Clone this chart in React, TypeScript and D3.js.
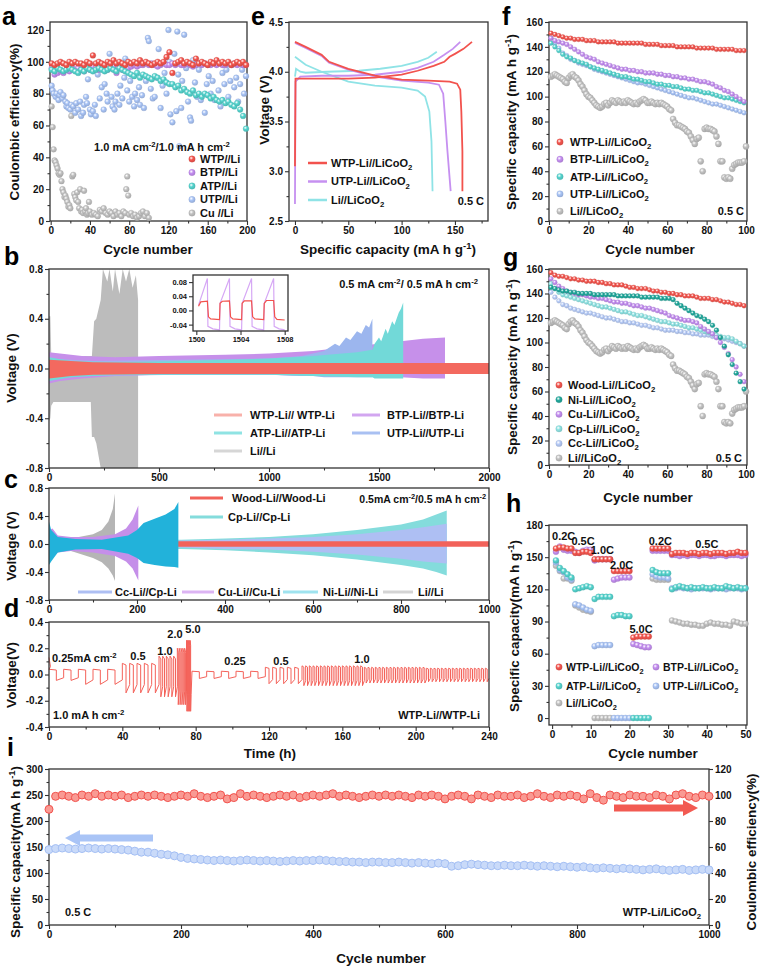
import React, { useEffect, useRef } from "react";
import * as d3 from "d3";

const FONT = "'Liberation Sans', Arial, Helvetica, sans-serif";

const C = {
  red: "#f4554e",
  purple: "#c48ef0",
  cyan: "#55d4ce",
  blue: "#a9c4f6",
  gray: "#c2c2c2",
  teal: "#22a99c",
  cp: "#8fe3e3",
  cc: "#b6cbf7",
};

// ---------- panel a : coulombic efficiency (every 3rd cycle from 1) ----------
const aStep = 3;
const aWtp = [99, 98, 99, 100, 99, 98, 100, 99, 100, 99, 99, 98, 100, 99, 104, 99, 100, 99, 98, 100, 99, 101, 99, 100, 99, 98, 100, 99, 100, 99, 101, 99, 100, 99, 98, 99, 100, 99, 100, 103, 106, 93, 99, 100, 101, 99, 100, 99, 98, 102, 99, 100, 99, 98, 100, 99, 101, 99, 100, 99, 100, 98, 99, 100, 99, 100, 98];
const aBtp = [96, 92, 93, 94, 93, 95, 94, 96, 95, 96, 95, 94, 96, 95, 97, 96, 95, 97, 96, 95, 96, 97, 93, 96, 95, 97, 96, 97, 98, 97, 98, 98, 99, 98, 99, 98, 97, 98, 99, 98, 98, 99, 98, 99, 98, 98, 99, 98, 97, 98, 99, 98, 99, 98, 98, 99, 98, 99, 98, 98, 99, 98, 99, 98, 99, 98, 98];
const aAtp = [95, 94, 96, 95, 94, 95, 96, 95, 94, 93, 95, 94, 96, 95, 94, 95, 96, 95, 94, 95, 96, 95, 94, 96, 95, 94, 93, 92, 91, 93, 90, 92, 91, 90, 89, 91, 90, 88, 89, 87, 86, 86, 84, 85, 82, 83, 81, 80, 82, 79, 80, 78, 80, 79, 77, 78, 76, 75, 76, 74, 75, 73, 72, 74, 70, 66, 58];
const aUtp = [[1, 85], [2, 82], [3, 80], [5, 78], [6, 80], [8, 76], [9, 79], [10, 81], [12, 77], [13, 79], [15, 75], [16, 72], [17, 74], [18, 71], [20, 70], [21, 73], [23, 72], [25, 68], [26, 74], [28, 70], [30, 75], [31, 66], [33, 68], [34, 73], [36, 78], [37, 74], [38, 89], [40, 70], [41, 67], [43, 69], [45, 73], [46, 66], [48, 92], [50, 77], [52, 84], [54, 70], [55, 86], [57, 80], [58, 75], [60, 105], [62, 78], [63, 72], [65, 70], [66, 75], [68, 80], [70, 73], [71, 85], [73, 77], [75, 90], [76, 102], [78, 82], [80, 75], [81, 88], [83, 78], [85, 72], [86, 80], [88, 76], [90, 84], [91, 73], [93, 79], [95, 71], [97, 88], [99, 115], [100, 113], [102, 83], [104, 77], [106, 78], [108, 90], [110, 108], [112, 71], [114, 85], [116, 93], [118, 80], [120, 120], [121, 100], [122, 67], [124, 62], [126, 105], [128, 69], [129, 119], [130, 92], [131, 47], [133, 71], [134, 88], [136, 117], [138, 96], [140, 75], [142, 65], [143, 63], [145, 101], [147, 87], [149, 78], [151, 95], [153, 76], [155, 99], [157, 68], [159, 86], [161, 91], [163, 80], [165, 88], [167, 76], [169, 100], [171, 82], [173, 72], [175, 93], [177, 86], [179, 95], [181, 78], [183, 88], [185, 98], [187, 84], [189, 90], [191, 75], [193, 86], [195, 95], [197, 80], [199, 91]];
const aCu = [[1, 72], [2, 59], [3, 45], [4, 38], [5, 37], [6, 35], [7, 33], [8, 30], [9, 29], [10, 30], [11, 25], [12, 20], [13, 18], [14, 15], [15, 16], [16, 14], [17, 12], [18, 9], [19, 10], [20, 8], [21, 66], [22, 28], [23, 29], [24, 17], [25, 15], [26, 13], [27, 18], [28, 12], [29, 8], [30, 20], [31, 6], [32, 7], [33, 5], [34, 19], [35, 6], [36, 8], [37, 4], [38, 5], [39, 12], [40, 6], [42, 4], [44, 5], [46, 4], [48, 3], [50, 7], [52, 6], [54, 8], [56, 5], [58, 4], [60, 6], [62, 5], [64, 3], [66, 6], [68, 4], [70, 5], [72, 3], [74, 6], [76, 5], [77, 20], [78, 28], [79, 16], [80, 4], [82, 5], [84, 3], [86, 4], [88, 2], [90, 3], [92, 5], [94, 6], [96, 3], [98, 5], [100, 2]];

// ---------- panel e : charge / discharge profiles [capacity, voltage] ----------
const eWtpCh = [[0, 3.05], [0.5, 3.93], [25, 3.93], [50, 3.93], [75, 3.94], [100, 3.97], [115, 4.01], [130, 4.06], [140, 4.1], [145, 4.15], [150, 4.18], [158, 4.23], [166, 4.3]];
const eWtpDis = [[0, 4.3], [10, 4.25], [25, 4.17], [32, 4.1], [50, 4.03], [75, 3.96], [100, 3.92], [125, 3.91], [145, 3.9], [152, 3.88], [155, 3.82], [156, 3.6], [157, 3.2], [157, 2.8]];
const eUtpCh = [[0, 2.67], [0.5, 3.9], [5, 3.95], [25, 3.96], [50, 3.96], [75, 3.97], [100, 4.0], [115, 4.04], [130, 4.1], [140, 4.17], [148, 4.23], [155, 4.3]];
const eUtpDis = [[0, 4.29], [10, 4.24], [25, 4.16], [32, 4.09], [50, 4.02], [75, 3.95], [100, 3.91], [125, 3.89], [135, 3.87], [139, 3.78], [141, 3.5], [143, 3.2], [146, 2.8]];
const eLiCh = [[0, 3.95], [1, 4.03], [5, 4.0], [10, 3.99], [30, 4.0], [60, 4.01], [80, 4.03], [100, 4.06], [115, 4.1], [125, 4.14], [133, 4.2]];
const eLiDis = [[0, 4.15], [10, 4.07], [25, 4.0], [50, 3.9], [75, 3.86], [100, 3.84], [115, 3.81], [122, 3.75], [126, 3.6], [128, 3.3], [129, 2.8]];

// ---------- panel f : cycling at 0.5 C (every 2nd cycle from 1) ----------
const fStep = 2;
const fWtp = [151, 150, 149, 148, 147, 147, 146, 146, 146, 145, 145, 145, 144, 144, 144, 144, 144, 143, 143, 143, 143, 143, 143, 143, 142, 142, 142, 142, 141, 141, 141, 141, 140, 140, 140, 140, 140, 139, 139, 139, 139, 139, 138, 138, 138, 138, 138, 137, 137, 137];
const fBtp = [147, 145, 144, 143, 142, 140, 138, 136, 134, 132, 131, 130, 128, 127, 126, 125, 124, 123, 122, 122, 121, 121, 120, 120, 119, 119, 119, 118, 118, 117, 117, 116, 116, 115, 115, 114, 114, 113, 112, 112, 111, 110, 108, 107, 105, 104, 102, 100, 98, 96];
const fAtp = [143, 140, 137, 134, 132, 131, 129, 128, 127, 126, 124, 123, 122, 121, 120, 119, 118, 117, 116, 116, 115, 114, 114, 113, 112, 112, 111, 110, 110, 109, 109, 108, 108, 107, 106, 106, 105, 105, 104, 103, 103, 102, 101, 100, 99, 99, 98, 97, 96, 95];
const fUtp = [147, 143, 139, 135, 133, 130, 129, 127, 126, 125, 124, 122, 121, 120, 119, 118, 117, 116, 115, 114, 113, 112, 111, 111, 110, 109, 108, 107, 106, 105, 104, 103, 102, 101, 100, 99, 99, 98, 97, 96, 95, 94, 94, 93, 92, 91, 90, 89, 88, 87];
const liCo = [[1, 116], [2, 117], [3, 118], [4, 117], [5, 116], [6, 115], [7, 114], [8, 112], [9, 111], [10, 115], [11, 117], [12, 118], [13, 116], [14, 115], [15, 113], [16, 110], [17, 108], [18, 105], [19, 102], [20, 100], [21, 99], [22, 97], [23, 95], [24, 93], [25, 92], [26, 91], [27, 92], [28, 94], [29, 95], [30, 93], [31, 95], [32, 97], [33, 96], [34, 95], [35, 97], [36, 96], [37, 95], [38, 96], [39, 95], [40, 97], [41, 96], [42, 95], [43, 94], [44, 95], [45, 94], [46, 96], [47, 97], [48, 98], [49, 97], [50, 95], [51, 95], [52, 96], [53, 95], [54, 94], [55, 95], [56, 94], [57, 95], [58, 94], [59, 93], [60, 92], [61, 90], [62, 89], [63, 82], [64, 79], [65, 77], [66, 77], [67, 76], [68, 75], [69, 74], [70, 72], [71, 71], [72, 68], [73, 65], [74, 62], [75, 66], [76, 67], [77, 48], [78, 40], [79, 74], [80, 75], [81, 74], [82, 74], [83, 73], [84, 72], [85, 68], [86, 62], [87, 48], [88, 48], [89, 35], [90, 34], [91, 35], [92, 34], [93, 42], [94, 45], [95, 46], [96, 47], [97, 47], [98, 47], [99, 48], [100, 60]];

// ---------- panel g : current collectors (every 2nd cycle from 1) ----------
const gWood = [157, 155, 154, 154, 153, 152, 152, 151, 151, 150, 150, 150, 149, 149, 148, 148, 147, 147, 147, 146, 145, 145, 144, 144, 144, 143, 142, 142, 141, 141, 140, 140, 139, 139, 138, 138, 138, 137, 136, 136, 136, 135, 135, 134, 133, 133, 132, 131, 131, 130];
const gNi = [145, 144, 143, 142, 142, 141, 141, 140, 140, 140, 140, 139, 139, 139, 139, 139, 139, 138, 138, 138, 138, 138, 138, 137, 137, 137, 137, 137, 136, 136, 136, 135, 132, 130, 128, 126, 124, 122, 121, 119, 117, 114, 110, 104, 97, 90, 82, 75, 68, 62];
const gCu = [152, 149, 146, 144, 142, 141, 140, 139, 139, 138, 137, 137, 136, 136, 135, 134, 133, 133, 132, 132, 131, 130, 130, 129, 128, 128, 127, 126, 125, 124, 122, 121, 120, 119, 118, 118, 117, 116, 113, 111, 109, 107, 104, 100, 96, 91, 86, 80, 74, 68];
const gCp = [148, 144, 141, 139, 138, 137, 136, 135, 134, 133, 132, 131, 130, 129, 129, 128, 127, 126, 125, 125, 124, 123, 122, 122, 121, 120, 119, 118, 117, 117, 116, 115, 115, 114, 113, 112, 112, 111, 110, 109, 108, 107, 106, 105, 104, 104, 103, 101, 99, 97];
const gCc = [141, 137, 134, 131, 130, 128, 127, 126, 125, 124, 124, 123, 122, 121, 120, 120, 119, 118, 117, 117, 116, 116, 115, 114, 114, 113, 112, 112, 111, 110, 110, 110, 109, 109, 108, 108, 107, 107, 106, 106, 106, 105, 104, 104, 103, 102, 101, 100, 99, 97];

// ---------- panel h : rate capability (cycles 1..50) ----------
const hRates = [["0.2C", 3], ["0.5C", 8], ["1.0C", 13], ["2.0C", 18], ["5.0C", 23], ["0.2C", 28], ["0.5C", 40]];
const hWtp = [158, 159, 159, 158, 158, 154, 154, 155, 155, 154, 148, 148, 148, 148, 148, 137, 137, 137, 137, 137, 75, 76, 76, 76, 76, 158, 158, 158, 158, 158, 153, 154, 154, 154, 153, 154, 154, 153, 154, 154, 153, 154, 154, 154, 153, 154, 154, 155, 154, 154];
const hBtp = [155, 160, 157, 156, 156, 155, 154, 156, 157, 157, 147, 148, 148, 148, 148, 129, 130, 131, 131, 131, 69, 68, 67, 66, 66, 156, 156, 156, 156, 156, 152, 152, 151, 152, 151, 152, 152, 151, 152, 152, 151, 151, 152, 152, 151, 152, 152, 152, 151, 152];
const hAtp = [147, 140, 137, 134, 131, 120, 121, 122, 123, 122, 111, 113, 113, 113, 113, 95, 96, 96, 95, 95, 0, 0, 0, 0, 0, 138, 136, 135, 135, 135, 120, 122, 123, 122, 121, 122, 121, 121, 122, 121, 121, 122, 121, 121, 123, 122, 121, 122, 121, 121];
const hUtp = [145, 138, 136, 131, 129, 106, 105, 103, 101, 100, 67, 68, 68, 68, 68, 0, 0, 0, 0, 0, null, null, null, null, null, 134, 132, 131, 131, 130, 121, 121, 122, 121, 121, 120, 121, 121, 121, 121, 120, 121, 121, 121, 120, 121, 121, 121, 120, 121];
const hLi = [142, 137, 130, 130, 128, 105, 103, 101, 100, 99, 0, 0, 0, 0, 0, null, null, null, null, null, null, null, null, null, null, 130, 129, 129, 129, 129, 91, 90, 89, 88, 88, 87, 87, 86, 86, 88, 89, 88, 88, 87, 87, 86, 90, 89, 88, 88];

// ---------- panel b : symmetric cells, envelope [x, upper, lower] ----------
const bLi = [[0, 0.42, -0.42], [6, 0.42, -0.4], [10, 0.12, -0.3], [20, 0.1, -0.27], [100, 0.1, -0.27], [190, 0.1, -0.27], [195, 0.1, -0.55], [205, 0.38, -0.55], [215, 0.4, -0.6], [235, 0.55, -0.8], [245, 0.8, -0.8], [265, 0.7, -0.8], [275, 0.8, -0.8], [290, 0.62, -0.8], [300, 0.8, -0.8], [320, 0.6, -0.8], [335, 0.8, -0.8], [350, 0.7, -0.8], [365, 0.8, -0.8], [380, 0.65, -0.8], [395, 0.75, -0.8], [405, 0.55, -0.8]];
const bBtp = [[0, 0.13, -0.12], [50, 0.12, -0.1], [150, 0.1, -0.08], [300, 0.09, -0.06], [500, 0.1, -0.05], [800, 0.11, -0.05], [1000, 0.12, -0.05], [1200, 0.14, -0.06], [1300, 0.16, -0.06], [1400, 0.18, -0.06], [1500, 0.2, -0.07], [1600, 0.22, -0.07], [1700, 0.24, -0.08], [1800, 0.25, -0.08]];
const bAtp = [[0, 0.09, -0.1], [100, 0.06, -0.07], [300, 0.05, -0.05], [600, 0.06, -0.05], [1000, 0.08, -0.05], [1200, 0.1, -0.06], [1400, 0.13, -0.07], [1470, 0.15, -0.07], [1480, 0.2, -0.08], [1500, 0.25, -0.08], [1510, 0.22, -0.08], [1530, 0.32, -0.08], [1540, 0.28, -0.08], [1560, 0.38, -0.08], [1570, 0.35, -0.08], [1590, 0.45, -0.08], [1600, 0.48, -0.08], [1610, 0.53, -0.08]];
const bUtp = [[0, 0.08, -0.08], [200, 0.06, -0.06], [600, 0.07, -0.05], [1000, 0.08, -0.05], [1150, 0.1, -0.06], [1200, 0.12, -0.06], [1250, 0.14, -0.07], [1300, 0.2, -0.07], [1320, 0.18, -0.07], [1350, 0.25, -0.07], [1370, 0.23, -0.07], [1400, 0.3, -0.07], [1420, 0.28, -0.07], [1440, 0.35, -0.07], [1455, 0.33, -0.07], [1470, 0.4, -0.07]];
const bWtp = [[0, 0.07, -0.08], [100, 0.06, -0.06], [200, 0.05, -0.05], [500, 0.045, -0.045], [2000, 0.045, -0.045]];
const insetBtp = [[1500.2, 0.015], [1501.0, 0.09], [1501.05, -0.045], [1501.5, -0.052], [1502.1, -0.055], [1502.15, 0.02], [1503.0, 0.09], [1503.05, -0.045], [1503.5, -0.052], [1504.1, -0.055], [1504.15, 0.02], [1505.0, 0.09], [1505.05, -0.045], [1505.5, -0.052], [1506.1, -0.055], [1506.15, 0.02], [1507.0, 0.09], [1507.05, -0.045], [1507.5, -0.052], [1508.0, -0.055]];
const insetWtp = [[1500.2, 0.012], [1500.4, 0.024], [1501.0, 0.026], [1501.1, -0.018], [1501.3, -0.024], [1502.1, -0.026], [1502.15, 0.02], [1502.35, 0.026], [1503.0, 0.027], [1503.1, -0.018], [1503.3, -0.024], [1504.1, -0.026], [1504.15, 0.02], [1504.35, 0.027], [1505.0, 0.027], [1505.1, -0.018], [1505.3, -0.024], [1506.1, -0.026], [1506.15, 0.02], [1506.35, 0.028], [1507.0, 0.028], [1507.1, -0.018], [1507.3, -0.025], [1508.0, -0.027]];

// ---------- panel c : collectors symmetric cells ----------
const cLi = [[0, 0.06, -0.08], [50, 0.08, -0.1], [100, 0.14, -0.2], [120, 0.2, -0.26], [135, 0.32, -0.35], [145, 0.5, -0.45], [150, 0.72, -0.53]];
const cCu = [[0, 0.2, -0.22], [8, 0.22, -0.2], [20, 0.12, -0.12], [50, 0.1, -0.1], [100, 0.1, -0.12], [150, 0.14, -0.17], [175, 0.22, -0.25], [190, 0.35, -0.35], [203, 0.55, -0.52]];
const cNi = [[0, 0.32, -0.3], [5, 0.2, -0.25], [20, 0.1, -0.12], [60, 0.07, -0.08], [120, 0.06, -0.07], [180, 0.12, -0.14], [200, 0.2, -0.2], [215, 0.3, -0.27], [240, 0.36, -0.3], [265, 0.42, -0.32], [285, 0.5, -0.33], [294, 0.6, -0.34]];
const cCp = [[0, 0.05, -0.05], [300, 0.06, -0.07], [400, 0.08, -0.09], [500, 0.1, -0.12], [600, 0.14, -0.16], [700, 0.2, -0.22], [800, 0.28, -0.3], [850, 0.35, -0.35], [880, 0.42, -0.4], [904, 0.48, -0.45]];
const cCc = [[0, 0.04, -0.04], [300, 0.05, -0.05], [400, 0.06, -0.07], [500, 0.08, -0.08], [600, 0.1, -0.11], [700, 0.14, -0.15], [800, 0.2, -0.21], [850, 0.24, -0.25], [904, 0.29, -0.28]];
const cWood = [[0, 0.038, -0.038], [1000, 0.04, -0.04]];

// ---------- panel d : rate steps of the symmetric cell ----------
const dStart = [0, 16, 40, 60, 70, 75, 78, 118, 138, 172, 206];
const dEnd = [16, 40, 60, 70, 75, 77.5, 118, 138, 172, 206, 240];
const dPeriod = [8, 8, 4, 2, 1, 0.5, 8, 4, 2, 2, 2];
const dUp = [0.04, 0.04, 0.085, 0.14, 0.2, 0.26, 0.025, 0.055, 0.066, 0.055, 0.048];
const dDown = [-0.045, -0.075, -0.14, -0.17, -0.23, -0.28, -0.03, -0.07, -0.085, -0.065, -0.055];
const dLead = [[0, 0.13], [0.8, 0.06]];

// ---------- panel i : long cycling (every 10th cycle) ----------
const iStep = 10;
const iCap = [145, 147, 148, 147, 146, 147, 148, 147, 146, 147, 146, 145, 144, 142, 140, 140, 138, 136, 135, 133, 130, 128, 127, 126, 125, 124, 125, 124, 123, 124, 125, 124, 123, 124, 123, 122, 123, 124, 123, 124, 124, 125, 124, 123, 122, 122, 121, 121, 120, 121, 121, 120, 120, 121, 120, 119, 120, 119, 118, 119, 118, 113, 114, 116, 117, 116, 115, 114, 114, 115, 114, 114, 115, 114, 113, 114, 113, 112, 113, 112, 111, 112, 110, 109, 110, 109, 108, 109, 108, 107, 106, 107, 108, 106, 105, 106, 107, 105, 106, 107, 106];
const iCe = [89, 99, 100, 99, 98, 100, 99, 101, 99, 100, 99, 100, 98, 99, 100, 99, 100, 99, 98, 99, 100, 99, 101, 99, 98, 99, 100, 97, 98, 101, 99, 100, 99, 98, 99, 100, 99, 100, 98, 99, 100, 99, 100, 101, 99, 100, 99, 98, 99, 100, 99, 100, 99, 100, 99, 98, 100, 99, 100, 99, 97, 99, 100, 99, 97, 100, 99, 98, 100, 99, 99, 100, 98, 99, 101, 99, 98, 100, 99, 100, 99, 97, 101, 98, 96, 100, 99, 98, 100, 99, 99, 98, 100, 99, 97, 100, 101, 99, 98, 100, 99];

// ---------- helpers ----------
function rich(g, x, y, str, o: any = {}) {
  const size = o.size || 11;
  const t = g.append("text").attr("font-family", FONT).attr("font-weight", "bold")
    .attr("font-size", size).attr("fill", o.color || "#111").attr("text-anchor", o.anchor || "start");
  if (o.rotate) t.attr("transform", `translate(${x},${y}) rotate(-90)`);
  else t.attr("x", x).attr("y", y);
  const parts = str.split(/(\^\{[^}]*\}|_\{[^}]*\})/).filter((s) => s.length);
  let shift = 0;
  parts.forEach((p) => {
    let s = p, target = 0, fs = size;
    if (p.startsWith("^{")) { s = p.slice(2, -1); target = -size * 0.38; fs = size * 0.7; }
    else if (p.startsWith("_{")) { s = p.slice(2, -1); target = size * 0.28; fs = size * 0.7; }
    t.append("tspan").attr("dy", target - shift).attr("font-size", fs).text(s);
    shift = target;
  });
  return t;
}

function axes(g, x, y, o) {
  const [x0, x1] = x.range();
  const [yb, yt] = y.range();
  const fs = o.fs || 10;
  const style = (ax) => {
    ax.select(".domain").remove();
    ax.selectAll("line").attr("stroke", "#333").attr("stroke-width", 1.1);
    ax.selectAll("text").attr("font-family", FONT).attr("font-weight", "bold").attr("font-size", fs).attr("fill", "#111");
  };
  const fx = o.xFmt || ((d) => String(d));
  const fy = o.yFmt || ((d) => String(d));
  if (o.xMinor) g.append("g").attr("transform", `translate(0,${yb})`).call(d3.axisBottom(x).tickValues(o.xMinor).tickSize(2.5).tickFormat(() => "")).call(style);
  if (o.yMinor) g.append("g").attr("transform", `translate(${x0},0)`).call(d3.axisLeft(y).tickValues(o.yMinor).tickSize(2.5).tickFormat(() => "")).call(style);
  g.append("g").attr("transform", `translate(0,${yb})`).call(d3.axisBottom(x).tickValues(o.xTicks).tickSize(4).tickPadding(2).tickFormat(fx)).call(style);
  g.append("g").attr("transform", `translate(${x0},0)`).call(d3.axisLeft(y).tickValues(o.yTicks).tickSize(4).tickPadding(2).tickFormat(fy)).call(style);
  g.append("rect").attr("x", x0).attr("y", yt).attr("width", x1 - x0).attr("height", yb - yt)
    .attr("fill", "none").attr("stroke", "#333").attr("stroke-width", 1.3);
}

function balls(g, pts, x, y, name, r) {
  g.append("g").selectAll("circle").data(pts.filter((p) => p[1] != null)).join("circle")
    .attr("cx", (p) => x(p[0])).attr("cy", (p) => y(p[1])).attr("r", r)
    .attr("fill", `url(#ball-${name})`).attr("stroke", d3.color(C[name]).darker(0.5)).attr("stroke-width", 0.3);
}

const stepped = (arr, step, first = 1) => arr.map((v, i) => [first + i * step, v]);

function band(g, x, y, data, color) {
  const area = d3.area().x((d) => x(d[0])).y0((d) => y(d[2])).y1((d) => y(d[1]));
  g.append("path").attr("d", area(data)).attr("fill", color);
}

function legendLine(g, x0, x1, y, color, text, tx, size = 11, w = 3) {
  g.append("line").attr("x1", x0).attr("x2", x1).attr("y1", y).attr("y2", y).attr("stroke", color).attr("stroke-width", w);
  rich(g, tx, y + size * 0.36, text, { size });
}

function legendBall(g, x, y, name, r, text, tx, size = 11) {
  g.append("circle").attr("cx", x).attr("cy", y).attr("r", r).attr("fill", `url(#ball-${name})`)
    .attr("stroke", d3.color(C[name]).darker(0.5)).attr("stroke-width", 0.3);
  rich(g, tx, y + size * 0.36, text, { size });
}

function arrow(g, xa, xb, y, color) {
  const dir = Math.sign(xb - xa);
  const hx = xb - dir * 15;
  const pts = [[xa, y - 3.5], [hx, y - 3.5], [hx, y - 8], [xb, y], [hx, y + 8], [hx, y + 3.5], [xa, y + 3.5]];
  g.append("polygon").attr("points", pts.map((p) => p.join(",")).join(" ")).attr("fill", color);
}

function drawChart(svgEl) {
  const svg = d3.select(svgEl);
  svg.selectAll("*").remove();
  const defs = svg.append("defs");
  Object.entries(C).forEach(([k, c]) => {
    const gr = defs.append("radialGradient").attr("id", `ball-${k}`).attr("cx", "38%").attr("cy", "35%").attr("r", "65%");
    gr.append("stop").attr("offset", "0%").attr("stop-color", "#ffffff").attr("stop-opacity", 0.95);
    gr.append("stop").attr("offset", "45%").attr("stop-color", c);
    gr.append("stop").attr("offset", "100%").attr("stop-color", d3.color(c).darker(0.35));
  });
  const g = svg.append("g");
  const letter = (t, x, y) => g.append("text").attr("x", x).attr("y", y).attr("font-family", FONT)
    .attr("font-weight", "bold").attr("font-size", 25).attr("fill", "#000").text(t);

  // ===== a =====
  {
    const x = d3.scaleLinear().domain([-0.7, 200]).range([50, 247]);
    const y = d3.scaleLinear().domain([0, 125]).range([221, 22]);
    axes(g, x, y, { xTicks: [0, 40, 80, 120, 160, 200], xMinor: [20, 60, 100, 140, 180], yTicks: [0, 20, 40, 60, 80, 100, 120], yMinor: [10, 30, 50, 70, 90, 110] });
    balls(g, aCu, x, y, "gray", 2.9);
    balls(g, aUtp, x, y, "blue", 2.9);
    balls(g, stepped(aBtp, aStep), x, y, "purple", 2.9);
    balls(g, stepped(aAtp, aStep), x, y, "cyan", 2.9);
    balls(g, stepped(aWtp, aStep), x, y, "red", 2.9);
    rich(g, 162, 151, "1.0 mA cm^{-2}/1.0 mA h cm^{-2}", { size: 11, anchor: "middle" });
    const la = [["red", "WTP//Li"], ["purple", "BTP//Li"], ["cyan", "ATP//Li"], ["blue", "UTP//Li"], ["gray", "Cu //Li"]];
    la.forEach(([c, t], i) => legendBall(g, 192, 159 + i * 13.5, c, 3.2, t, 200, 11));
    letter("a", 2, 25);
    rich(g, 148, 254, "Cycle number", { size: 13.5, anchor: "middle" });
    rich(g, 19, 122, "Coulombic efficiency(%)", { size: 13.5, anchor: "middle", rotate: true });
  }

  // ===== e =====
  {
    const x = d3.scaleLinear().domain([-5.6, 181]).range([289, 488]);
    const y = d3.scaleLinear().domain([2.5, 4.5]).range([221, 22]);
    axes(g, x, y, { xTicks: [0, 50, 100, 150], xMinor: [25, 75, 125, 175], yTicks: [2.5, 3.0, 3.5, 4.0, 4.5], yMinor: [2.75, 3.25, 3.75, 4.25], yFmt: (d) => d.toFixed(1) });
    const line = d3.line().x((d) => x(d[0])).y((d) => y(d[1]));
    const curves = [[eLiCh, "#8fe3e6"], [eLiDis, "#8fe3e6"], [eUtpCh, "#c690f0"], [eUtpDis, "#c690f0"], [eWtpCh, "#f2524d"], [eWtpDis, "#f2524d"]];
    curves.forEach(([d, c]) => g.append("path").attr("d", line(d)).attr("fill", "none").attr("stroke", c).attr("stroke-width", 1.8));
    const le = [["#f2524d", "WTP-Li//LiCoO_{2}"], ["#c690f0", "UTP-Li//LiCoO_{2}"], ["#8fe3e6", "Li//LiCoO_{2}"]];
    le.forEach(([c, t], i) => legendLine(g, 308, 327, 163 + i * 18.5, c, t, 331, 11, 2.5));
    rich(g, 484, 205, "0.5 C", { size: 11, anchor: "end" });
    letter("e", 251, 25);
    rich(g, 388, 254, "Specific capacity (mA h g^{-1})", { size: 13.5, anchor: "middle" });
    rich(g, 269, 110, "Voltage (V)", { size: 13.5, anchor: "middle", rotate: true });
  }

  // ===== f =====
  {
    const x = d3.scaleLinear().domain([0, 100.5]).range([549, 747]);
    const y = d3.scaleLinear().domain([0, 160]).range([221, 22]);
    axes(g, x, y, { xTicks: [0, 20, 40, 60, 80, 100], xMinor: [10, 30, 50, 70, 90], yTicks: [0, 20, 40, 60, 80, 100, 120, 140, 160], yMinor: [10, 30, 50, 70, 90, 110, 130, 150] });
    balls(g, liCo, x, y, "gray", 3.1);
    balls(g, stepped(fUtp, fStep), x, y, "blue", 2.4);
    balls(g, stepped(fAtp, fStep), x, y, "cyan", 2.4);
    balls(g, stepped(fBtp, fStep), x, y, "purple", 2.4);
    balls(g, stepped(fWtp, fStep), x, y, "red", 2.4);
    const lf = [["red", "WTP-Li//LiCoO_{2}"], ["purple", "BTP-Li//LiCoO_{2}"], ["cyan", "ATP-Li//LiCoO_{2}"], ["blue", "UTP-Li//LiCoO_{2}"], ["gray", "Li//LiCoO_{2}"]];
    lf.forEach(([c, t], i) => legendBall(g, 560, 142 + i * 17.3, c, 3.2, t, 570, 11));
    rich(g, 744, 215, "0.5 C", { size: 11, anchor: "end" });
    letter("f", 502, 25);
    rich(g, 650, 254, "Cycle number", { size: 13.5, anchor: "middle" });
    rich(g, 516, 122, "Specific capacity (mA h g^{-1})", { size: 13.5, anchor: "middle", rotate: true });
  }

  // ===== b =====
  {
    const x = d3.scaleLinear().domain([0, 2000]).range([49, 489]);
    const y = d3.scaleLinear().domain([-0.8, 0.8]).range([468, 269]);
    band(g, x, y, bLi, "#bcbcbc");
    band(g, x, y, bBtp, "#c690ea");
    band(g, x, y, bUtp, "#9cb6ee");
    band(g, x, y, bAtp, "#72d9d8");
    band(g, x, y, bWtp, "#f3695f");
    axes(g, x, y, { xTicks: [0, 500, 1000, 1500, 2000], xMinor: [250, 750, 1250, 1750], yTicks: [-0.8, -0.4, 0, 0.4, 0.8], yMinor: [-0.6, -0.2, 0.2, 0.6], yFmt: (d) => d.toFixed(1) });
    // inset
    const xi = d3.scaleLinear().domain([1499.7, 1508.3]).range([193, 288]);
    const yi = d3.scaleLinear().domain([-0.058, 0.1]).range([331, 275]);
    g.append("rect").attr("x", 193).attr("y", 275).attr("width", 95).attr("height", 56).attr("fill", "#fff");
    const li = d3.line().x((d) => xi(d[0])).y((d) => yi(d[1]));
    g.append("path").attr("d", li(insetBtp)).attr("fill", "none").attr("stroke", "#d6a8f5").attr("stroke-width", 1.2);
    g.append("path").attr("d", li(insetWtp)).attr("fill", "none").attr("stroke", "#f2524d").attr("stroke-width", 1.2);
    axes(g, xi, yi, { xTicks: [1500, 1504, 1508], yTicks: [-0.04, 0, 0.04, 0.08], yFmt: (d) => d.toFixed(2), fs: 7.5 });
    rich(g, 478, 288, "0.5 mA cm^{-2}/ 0.5 mA h cm^{-2}", { size: 11, anchor: "end" });
    legendLine(g, 214, 242, 415, "#f8b1aa", "WTP-Li// WTP-Li", 250, 11);
    legendLine(g, 352, 380, 415, "#d2a6f0", "BTP-Li//BTP-Li", 387, 11);
    legendLine(g, 214, 242, 433, "#8fe3e3", "ATP-Li//ATP-Li", 250, 11);
    legendLine(g, 352, 380, 433, "#a9c0f2", "UTP-Li//UTP-Li", 387, 11);
    legendLine(g, 214, 242, 451, "#d6d6d6", "Li//Li", 250, 11);
    letter("b", 4, 265);
    rich(g, 16, 368, "Voltage (V)", { size: 13.5, anchor: "middle", rotate: true });
  }

  // ===== g =====
  {
    const x = d3.scaleLinear().domain([0, 100.5]).range([549, 747]);
    const y = d3.scaleLinear().domain([0, 160]).range([465, 269]);
    axes(g, x, y, { xTicks: [0, 20, 40, 60, 80, 100], xMinor: [10, 30, 50, 70, 90], yTicks: [0, 20, 40, 60, 80, 100, 120, 140, 160], yMinor: [10, 30, 50, 70, 90, 110, 130, 150] });
    balls(g, liCo, x, y, "gray", 3.1);
    balls(g, stepped(gCc, fStep), x, y, "cc", 2.4);
    balls(g, stepped(gCp, fStep), x, y, "cp", 2.4);
    balls(g, stepped(gCu, fStep), x, y, "purple", 2.4);
    balls(g, stepped(gNi, fStep), x, y, "teal", 2.4);
    balls(g, stepped(gWood, fStep), x, y, "red", 2.4);
    const lg = [["red", "Wood-Li//LiCoO_{2}"], ["teal", "Ni-Li//LiCoO_{2}"], ["purple", "Cu-Li//LiCoO_{2}"], ["cp", "Cp-Li//LiCoO_{2}"], ["cc", "Cc-Li//LiCoO_{2}"], ["gray", "Li//LiCoO_{2}"]];
    lg.forEach(([c, t], i) => legendBall(g, 559, 385 + i * 14.6, c, 3.2, t, 568, 11));
    rich(g, 742, 462, "0.5 C", { size: 11, anchor: "end" });
    letter("g", 503, 266);
    rich(g, 648, 502, "Cycle number", { size: 13.5, anchor: "middle" });
    rich(g, 517, 367, "Specific capacity (mA h g^{-1})", { size: 13.5, anchor: "middle", rotate: true });
  }

  // ===== c =====
  {
    const x = d3.scaleLinear().domain([0, 1000]).range([49, 489]);
    const y = d3.scaleLinear().domain([-0.8, 0.8]).range([600, 488]);
    band(g, x, y, cCp, "#84dcdc");
    band(g, x, y, cCc, "#aebff3");
    band(g, x, y, cWood, "#f2625a");
    band(g, x, y, cLi, "#b5b5b5");
    band(g, x, y, cCu, "#c58fe9");
    band(g, x, y, cNi, "#22b2da");
    axes(g, x, y, { xTicks: [0, 200, 400, 600, 800, 1000], xMinor: [100, 300, 500, 700, 900], yTicks: [-0.8, -0.4, 0, 0.4, 0.8], yFmt: (d) => d.toFixed(1) });
    legendLine(g, 190, 223, 498, "#f2625a", "Wood-Li//Wood-Li", 232, 11);
    legendLine(g, 190, 223, 517, "#84dcdc", "Cp-Li//Cp-Li", 228, 11);
    rich(g, 486, 503, "0.5mA cm^{-2}/0.5 mA h cm^{-2}", { size: 10.5, anchor: "end" });
    legendLine(g, 78, 112, 592, "#aebff3", "Cc-Li//Cp-Li", 115, 11);
    legendLine(g, 182, 214, 592, "#dcb4f3", "Cu-Li//Cu-Li", 218, 11);
    legendLine(g, 283, 318, 592, "#9fe3ef", "Ni-Li//Ni-Li", 323, 11);
    legendLine(g, 383, 413, 592, "#d4d4d4", "Li//Li", 418, 11);
    letter("c", 4, 488);
    rich(g, 16, 546, "Voltage (V)", { size: 13.5, anchor: "middle", rotate: true });
  }

  // ===== d =====
  {
    const x = d3.scaleLinear().domain([0, 240]).range([49, 489]);
    const y = d3.scaleLinear().domain([-0.4, 0.4]).range([727, 622]);
    const pts = [...dLead];
    dStart.forEach((s, k) => {
      const per = dPeriod[k], half = per / 2;
      for (let t = s; t < dEnd[k] - 1e-6; t += per) {
        pts.push([t, dUp[k]], [t + half, dUp[k] * 0.85], [t + half, dDown[k]], [t + per, dDown[k] * 0.55]);
      }
    });
    const line = d3.line().x((d) => x(d[0])).y((d) => y(d[1]));
    g.append("path").attr("d", line(pts)).attr("fill", "none").attr("stroke", "#f4625a").attr("stroke-width", 1);
    axes(g, x, y, { xTicks: [0, 40, 80, 120, 160, 200, 240], xMinor: [20, 60, 100, 140, 180, 220], yTicks: [-0.4, -0.2, 0, 0.2, 0.4], yMinor: [-0.3, -0.1, 0.1, 0.3], yFmt: (d) => d.toFixed(1) });
    rich(g, 52, 662, "0.25mA cm^{-2}", { size: 11 });
    [["0.5", 138, 660], ["1.0", 165, 655], ["2.0", 175, 638], ["5.0", 193, 633], ["0.25", 235, 665], ["0.5", 281, 665], ["1.0", 362, 663]]
      .forEach(([t, px, py]) => rich(g, px, py, t, { size: 11, anchor: "middle" }));
    rich(g, 53, 719, "1.0 mA h cm^{-2}", { size: 11 });
    rich(g, 480, 719, "WTP-Li//WTP-Li", { size: 11, anchor: "end" });
    letter("d", 4, 617);
    rich(g, 270, 758, "Time (h)", { size: 13.5, anchor: "middle" });
    rich(g, 16, 675, "Voltage(V)", { size: 13.5, anchor: "middle", rotate: true });
  }

  // ===== h =====
  {
    const x = d3.scaleLinear().domain([-0.8, 50.4]).range([549, 747]);
    const y = d3.scaleLinear().domain([-6.5, 180]).range([725, 525]);
    axes(g, x, y, { xTicks: [0, 10, 20, 30, 40, 50], xMinor: [5, 15, 25, 35, 45], yTicks: [0, 30, 60, 90, 120, 150, 180], yMinor: [15, 45, 75, 105, 135, 165] });
    balls(g, stepped(hLi, 1), x, y, "gray", 3);
    balls(g, stepped(hUtp, 1), x, y, "blue", 3);
    balls(g, stepped(hAtp, 1), x, y, "cyan", 3);
    balls(g, stepped(hBtp, 1), x, y, "purple", 3);
    balls(g, stepped(hWtp, 1), x, y, "red", 3);
    const rateY = [540, 545, 554, 569, 633, 545, 548];
    hRates.forEach(([t, c], i) => rich(g, x(c), rateY[i], t, { size: 11, anchor: "middle" }));
    legendBall(g, 559, 667, "red", 3.2, "WTP-Li//LiCoO_{2}", 566, 10.5);
    legendBall(g, 656, 667, "purple", 3.2, "BTP-Li//LiCoO_{2}", 663, 10.5);
    legendBall(g, 559, 686, "cyan", 3.2, "ATP-Li//LiCoO_{2}", 566, 10.5);
    legendBall(g, 656, 686, "blue", 3.2, "UTP-Li//LiCoO_{2}", 663, 10.5);
    legendBall(g, 559, 703, "gray", 3.2, "Li//LiCoO_{2}", 566, 10.5);
    letter("h", 506, 512);
    rich(g, 653, 758, "Cycle number", { size: 13.5, anchor: "middle" });
    rich(g, 519, 626, "Specific capacity(mA h g^{-1})", { size: 13.5, anchor: "middle", rotate: true });
  }

  // ===== i =====
  {
    const x = d3.scaleLinear().domain([0, 1000]).range([49, 709]);
    const y = d3.scaleLinear().domain([0, 300]).range([925, 769]);
    const y2 = d3.scaleLinear().domain([0, 120]).range([925, 769]);
    axes(g, x, y, { xTicks: [0, 200, 400, 600, 800, 1000], xMinor: [100, 300, 500, 700, 900], yTicks: [0, 50, 100, 150, 200, 250, 300], yMinor: [25, 75, 125, 175, 225, 275] });
    const ax2 = g.append("g").attr("transform", "translate(709,0)").call(d3.axisRight(y2).tickValues([0, 20, 40, 60, 80, 100, 120]).tickSize(4).tickPadding(2));
    ax2.select(".domain").remove();
    ax2.selectAll("line").attr("stroke", "#333").attr("stroke-width", 1.1);
    ax2.selectAll("text").attr("font-family", FONT).attr("font-weight", "bold").attr("font-size", 10).attr("fill", "#111");
    const capPts = stepped(iCap, iStep, 0);
    const cePts = stepped(iCe, iStep, 0);
    g.append("g").selectAll("circle").data(capPts).join("circle").attr("cx", (d) => x(d[0])).attr("cy", (d) => y(d[1])).attr("r", 4)
      .attr("fill", "#c9daf9").attr("stroke", "#a4bff4").attr("stroke-width", 1);
    g.append("g").selectAll("circle").data(cePts).join("circle").attr("cx", (d) => x(d[0])).attr("cy", (d) => y2(d[1])).attr("r", 4)
      .attr("fill", "#f99a93").attr("stroke", "#f2524d").attr("stroke-width", 1);
    arrow(g, 614, 698, 808, "#f25a52");
    arrow(g, 153, 65, 838, "#a9c4f6");
    rich(g, 65, 916, "0.5 C", { size: 11 });
    rich(g, 701, 916, "WTP-Li/LiCoO_{2}", { size: 11, anchor: "end" });
    letter("i", 7, 756);
    rich(g, 381, 963, "Cycle number", { size: 13.5, anchor: "middle" });
    rich(g, 20, 852, "Specific capacity(mA h g^{-1})", { size: 13.5, anchor: "middle", rotate: true });
    rich(g, 756, 852, "Coulombic efficiency(%)", { size: 13.5, anchor: "middle", rotate: true });
  }
}

export default function App() {
  const svgRef = useRef(null);
  useEffect(() => {
    drawChart(svgRef.current);
  }, []);
  return (
    <svg ref={svgRef} width={761} height={968} style={{ position: "absolute", left: 0, top: 0, background: "#fff" }} />
  );
}
